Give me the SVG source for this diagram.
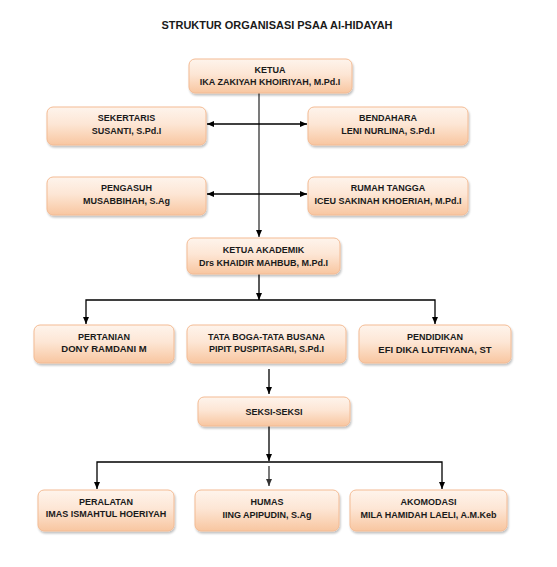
<svg xmlns="http://www.w3.org/2000/svg" width="557" height="567" viewBox="0 0 557 567">
<defs>
<linearGradient id="g" x1="0" y1="0" x2="0" y2="1">
<stop offset="0" stop-color="#fef4ec"/>
<stop offset="0.45" stop-color="#fde6d5"/>
<stop offset="1" stop-color="#f8c6a0"/>
</linearGradient>
<filter id="sh" x="-10%" y="-20%" width="120%" height="150%">
<feGaussianBlur in="SourceAlpha" stdDeviation="1.2"/>
<feOffset dx="1" dy="1.5" result="b"/>
<feComponentTransfer><feFuncA type="linear" slope="0.25"/></feComponentTransfer>
<feMerge><feMergeNode/><feMergeNode in="SourceGraphic"/></feMerge>
</filter>
<marker id="ah" markerWidth="8" markerHeight="8" refX="7" refY="4" orient="auto-start-reverse" markerUnits="userSpaceOnUse">
<path d="M0,1 L7,4 L0,7 Z" fill="#000"/>
</marker>
<marker id="ahg" markerWidth="8" markerHeight="8" refX="7" refY="4" orient="auto" markerUnits="userSpaceOnUse">
<path d="M0,1 L7,4 L0,7 Z" fill="#333"/>
</marker>
</defs>
<style>
.box{fill:url(#g);stroke:#f3bb94;stroke-width:1;filter:url(#sh)}
text{font-family:"Liberation Sans",Arial,sans-serif;font-weight:bold;fill:#1a1a1a;text-anchor:middle;font-size:9px}
.t{font-size:11px}
.big{font-size:9.5px}
.c{fill:none;stroke:#000;stroke-width:1.3}
.cv{fill:none;stroke:#333;stroke-width:1.3}
</style>
<rect width="557" height="567" fill="#fff"/>
<text class="t" x="277" y="29" textLength="231" lengthAdjust="spacingAndGlyphs">STRUKTUR ORGANISASI PSAA Al-HIDAYAH</text>

<g id="connectors">
<line class="cv" x1="259" y1="93" x2="259" y2="237" marker-end="url(#ah)"/>
<line class="c" x1="207" y1="124" x2="307" y2="124" marker-start="url(#ah)" marker-end="url(#ah)"/>
<line class="c" x1="207" y1="194" x2="307" y2="194" marker-start="url(#ah)" marker-end="url(#ah)"/>
<line class="c" x1="259" y1="274" x2="259" y2="300" marker-end="url(#ah)"/>
<polyline class="c" points="86,324 86,300 435,300 435,324" marker-start="url(#ah)" marker-end="url(#ah)"/>
<line class="c" x1="269" y1="369" x2="269" y2="394" marker-end="url(#ah)"/>
<line class="c" x1="269" y1="426" x2="269" y2="461" marker-end="url(#ah)"/>
<polyline class="c" points="97,489 97,462 442,462 442,489" marker-start="url(#ah)" marker-end="url(#ah)"/>
<line class="cv" x1="269" y1="466" x2="269" y2="486" stroke="#555" marker-end="url(#ahg)"/>
</g>

<g id="ketua">
<rect class="box" x="189" y="59" width="163" height="34" rx="6"/>
<text x="270" y="73">KETUA</text>
<text x="270" y="85">IKA ZAKIYAH KHOIRIYAH, M.Pd.I</text>
</g>
<g id="sekertaris">
<rect class="box" x="47" y="107" width="159" height="38" rx="6"/>
<text x="126.5" y="121">SEKERTARIS</text>
<text x="126.5" y="134">SUSANTI, S.Pd.I</text>
</g>
<g id="bendahara">
<rect class="box" x="308" y="107" width="160" height="38" rx="6"/>
<text x="388" y="121">BENDAHARA</text>
<text x="388" y="134">LENI NURLINA, S.Pd.I</text>
</g>
<g id="pengasuh">
<rect class="box" x="47" y="177" width="159" height="38" rx="6"/>
<text x="126.5" y="191">PENGASUH</text>
<text x="126.5" y="204">MUSABBIHAH, S.Ag</text>
</g>
<g id="rumahtangga">
<rect class="box" x="308" y="177" width="160" height="38" rx="6"/>
<text x="388" y="191">RUMAH TANGGA</text>
<text x="388" y="204">ICEU SAKINAH KHOERIAH, M.Pd.I</text>
</g>
<g id="ketuaakademik">
<rect class="box" x="187" y="238" width="153" height="36" rx="6"/>
<text x="263.5" y="253">KETUA AKADEMIK</text>
<text x="263.5" y="266">Drs KHAIDIR  MAHBUB, M.Pd.I</text>
</g>
<g id="pertanian">
<rect class="box" x="34" y="325" width="140" height="38" rx="6"/>
<text x="104" y="339.5">PERTANIAN</text>
<text x="104" y="352" class="big">DONY RAMDANI M</text>
</g>
<g id="tataboga">
<rect class="box" x="187" y="325" width="159" height="38" rx="6"/>
<text x="266.5" y="339.5">TATA BOGA-TATA BUSANA</text>
<text x="266.5" y="352">PIPIT PUSPITASARI, S.Pd.I</text>
</g>
<g id="pendidikan">
<rect class="box" x="359" y="325" width="152" height="38" rx="6"/>
<text x="435" y="339.5">PENDIDIKAN</text>
<text x="435" y="352.5" class="big">EFI DIKA LUTFIYANA, ST</text>
</g>
<g id="seksi">
<rect class="box" x="198" y="397" width="152" height="29" rx="6"/>
<text x="274" y="414.5">SEKSI-SEKSI</text>
</g>
<g id="peralatan">
<rect class="box" x="38" y="490" width="136" height="41" rx="6"/>
<text x="106" y="505">PERALATAN</text>
<text x="106" y="517">IMAS ISMAHTUL HOERIYAH</text>
</g>
<g id="humas">
<rect class="box" x="195" y="490" width="144" height="41" rx="6"/>
<text x="267" y="505">HUMAS</text>
<text x="267" y="517.5">IING APIPUDIN, S.Ag</text>
</g>
<g id="akomodasi">
<rect class="box" x="350" y="490" width="157" height="41" rx="6"/>
<text x="428.5" y="505">AKOMODASI</text>
<text x="428.5" y="517.5">MILA HAMIDAH  LAELI,  A.M.Keb</text>
</g>
</svg>
